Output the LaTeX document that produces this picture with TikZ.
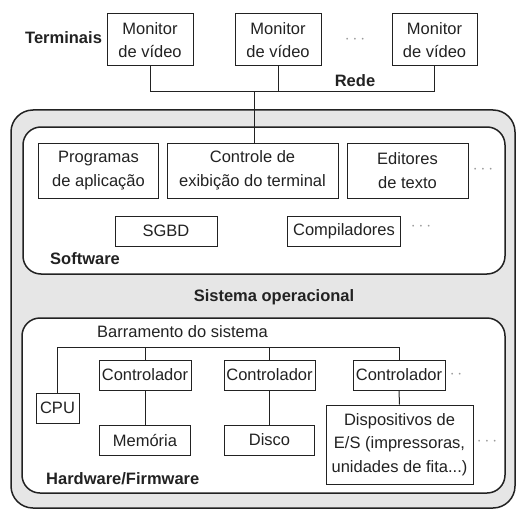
\documentclass[tikz,border=0pt]{standalone}
\usepackage{fontspec}
\setmainfont{Liberation Sans}
\definecolor{txt}{HTML}{222222}
\definecolor{osgray}{HTML}{E6E6E6}
\definecolor{dotgray}{HTML}{9A9A9A}
\begin{document}
\begin{tikzpicture}[x=1pt,y=-1pt,
  every node/.style={text=txt,font=\fontsize{16.5}{23.5}\selectfont},
  box/.style={draw=txt,line width=1pt,fill=white,inner sep=0pt,align=center},
  lbl/.style={inner sep=0pt,font=\fontsize{16.5}{23.5}\selectfont\bfseries},
  plain/.style={inner sep=0pt},
  dots/.style={inner sep=0pt,text=dotgray,font=\fontsize{17}{17}\selectfont},
  wire/.style={draw=txt,line width=1pt},
  area/.style={draw=txt,line width=1.5pt,rounded corners=18pt}]
\useasboundingbox (0,0) rectangle (523,532);
% outer OS area
\draw[area,fill=osgray,rounded corners=22pt] (11,110) rectangle (515,508);
\draw[area,fill=white] (23,127) rectangle (505,274);
\draw[area,fill=white] (22,318) rectangle (505,493);
% terminals
\node[box,minimum width=86pt,minimum height=52pt] (m1) at (150,40) {Monitor\\de vídeo};
\node[box,minimum width=86pt,minimum height=52pt] (m2) at (278,40) {Monitor\\de vídeo};
\node[box,minimum width=85pt,minimum height=52pt] (m3) at (434.5,40) {Monitor\\de vídeo};
\node[lbl,anchor=west] (term) at (25,38) {Terminais};
\node[dots] (tdots) at (355,40) {$\cdots$};
\node[lbl] (rede) at (355,81) {Rede};
\coordinate (net) at (254,92);
\draw[wire] (m1.south) -- (m1.south |- net) -- (m3.south |- net) -- (m3.south);
\draw[wire] (m2.south) -- (m2.south |- net);
% software
\node[box,minimum width=120pt,minimum height=55pt] (prog) at (98.5,170.5) {Programas\\de aplicação};
\node[box,minimum width=171pt,minimum height=55pt] (ctl) at (252.5,170.5) {Controle de\\exibição do terminal};
\node[box,minimum width=121pt,minimum height=55pt] (edit) at (407.5,170.5) {Editores\\de texto};
\node[dots] (edots) at (483,170) {$\cdots$};
\draw[wire] (net) -- (net |- ctl.north);
\node[box,minimum width=102pt,minimum height=30pt] (sgbd) at (166,231) {SGBD};
\node[box,minimum width=113pt,minimum height=30pt] (comp) at (344,231.5) {Compiladores};
\node[dots] (cdots) at (421,227) {$\cdots$};
\node[lbl,anchor=west] (soft) at (50,259) {Software};
\node[lbl] (so) at (274,297) {Sistema operacional};
% hardware
\node[plain,anchor=west] (bar) at (97,332) {Barramento do sistema};
\coordinate (bus) at (57,347);
\node[box,minimum width=43pt,minimum height=30pt] (cpu) at (57.5,408) {CPU};
\node[box,minimum width=92pt,minimum height=30pt] (c1) at (145,375) {Controlador};
\node[box,minimum width=91pt,minimum height=30pt] (c2) at (269.5,375) {Controlador};
\node[box,minimum width=92pt,minimum height=30pt] (c3) at (399,375) {Controlador};
\node[dots] (c3dots) at (456,375) {$\cdot\,\cdot$};
\node[box,minimum width=147pt,minimum height=79pt] (dev) at (399.5,444.5) {Dispositivos de\\E/S (impressoras,\\unidades de fita...)};
\node[box,minimum width=91pt,minimum height=30pt] (mem) at (145,440) {Memória};
\node[box,minimum width=90pt,minimum height=30pt] (disk) at (269.5,440) {Disco};
\node[dots] (ddots) at (487,442) {$\cdots$};
\node[lbl,anchor=west] (hw) at (46,479) {Hardware/Firmware};
\draw[wire] (cpu.north) -- (cpu.north |- bus) -- (c3.north |- bus) -- (c3.north);
\draw[wire] (c1.north) -- (c1.north |- bus);
\draw[wire] (c2.north) -- (c2.north |- bus);
\draw[wire] (c1.south) -- (mem.north);
\draw[wire] (c2.south) -- (disk.north);
\draw[wire] (c3.south) -- (dev.north);
\end{tikzpicture}
\end{document}
